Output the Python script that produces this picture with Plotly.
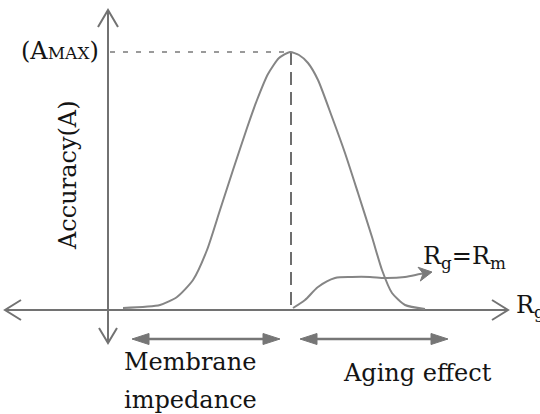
import plotly.graph_objects as go
import numpy as np

# ---- data (x: Rg position, y: accuracy, schematic units) ----
bell_rg = [123, 160, 177, 193, 207, 220, 233, 247, 257, 268, 279, 290, 299, 308, 318, 332, 345, 358, 372, 382, 392, 405, 425]
bell_acc = [2, 5, 13, 30, 60, 100, 140, 182, 210, 236, 252, 258, 255, 247, 230, 193, 157, 117, 73, 40, 17, 5, 1]

aging_rg = [293, 305, 318, 335, 352, 370, 385, 405, 420]
aging_acc = [2, 10, 23, 32, 33, 33, 32, 33, 36]
aging_tip = (432, 38)

peak_rg = 290
peak_acc = 258

axis_x_extent = (5, 508)      # horizontal axis (Rg)
axis_y_extent = (-33, 300)    # vertical axis (Accuracy)
axis_origin_rg = 108

membrane_span = (132, 280)
aging_span = (300, 448)
span_level = -29

labels = {
    "amax": "(A<span style=\"font-size:17px\">MAX</span>)",
    "acc": "Accuracy(A)",
    "rg_eq": "R<sub>g</sub>=R<sub>m</sub>",
    "rg": "R<sub>g</sub>",
    "membrane1": "Membrane",
    "membrane2": "impedance",
    "aging": "Aging effect",
}

AXIS_COL = "#727272"
LINE_COL = "#858585"
FONT = "DejaVu Serif"

fig = go.Figure()


def line(x, y, color=LINE_COL, width=2, dash=None, shape="linear", smoothing=None):
    ln = dict(color=color, width=width, shape=shape)
    if dash:
        ln["dash"] = dash
    if smoothing is not None:
        ln["smoothing"] = smoothing
    fig.add_trace(go.Scatter(x=x, y=y, mode="lines", line=ln, hoverinfo="skip"))


def chevron(tip, d, length=16, half=10, color=AXIS_COL):
    d = np.array(d, float); d /= np.linalg.norm(d)
    n = np.array([-d[1], d[0]])
    t = np.array(tip, float)
    a = t - length * d + half * n
    b = t - length * d - half * n
    line([a[0], t[0], b[0]], [a[1], t[1], b[1]], color=color, width=2)


def filled_head(tip, d, length=16, half=6, color=AXIS_COL, notch=0):
    d = np.array(d, float); d /= np.linalg.norm(d)
    n = np.array([-d[1], d[0]])
    t = np.array(tip, float)
    a = t - length * d + half * n
    b = t - length * d - half * n
    c = t - (length - notch) * d
    xs = [t[0], a[0], c[0], b[0], t[0]]
    ys = [t[1], a[1], c[1], b[1], t[1]]
    fig.add_trace(go.Scatter(x=xs, y=ys, mode="lines", fill="toself", fillcolor=color,
                             line=dict(color=color, width=1), hoverinfo="skip"))


# axes
line(list(axis_x_extent), [0, 0], color=AXIS_COL, width=2)
line([axis_origin_rg, axis_origin_rg], list(axis_y_extent), color=AXIS_COL, width=2)
chevron((axis_x_extent[1], 0), (1, 0))
chevron((axis_x_extent[0], 0), (-1, 0))
chevron((axis_origin_rg, axis_y_extent[1]), (0, 1), length=17)
chevron((axis_origin_rg, axis_y_extent[0]), (0, -1), length=15, half=9)

# reference lines to the peak
line([axis_origin_rg + 2, peak_rg], [peak_acc, peak_acc], color="#7a7a7a", width=1.5, dash="5px,8px")
line([peak_rg + 1, peak_rg + 1], [peak_acc, 0], color="#6e6e6e", width=2, dash="13px,7px")

# bell curve
line(bell_rg, bell_acc, color=LINE_COL, width=2, shape="spline", smoothing=0.6)

# aging curve with arrow
line(aging_rg + [aging_tip[0] - 6], aging_acc + [aging_tip[1] - 1], color=LINE_COL, width=2,
     shape="spline", smoothing=0.8)
filled_head(aging_tip, (aging_tip[0] - aging_rg[-1], aging_tip[1] - aging_acc[-1]),
            length=13, half=7, color="#7a7a7a", notch=4)

# span arrows below the axis
for lo, hi in (membrane_span, aging_span):
    line([lo + 10, hi - 10], [span_level, span_level], color="#767676", width=2.5)
    filled_head((lo, span_level), (-1, 0), length=17, half=5.5, color="#767676")
    filled_head((hi, span_level), (1, 0), length=17, half=5.5, color="#767676")

font = dict(family=FONT, size=24, color="#141414")
ann = [
    dict(x=101, y=peak_acc + 1, text=labels["amax"], xanchor="right", yanchor="middle"),
    dict(x=68, y=135, text=labels["acc"], textangle=-90, xanchor="center", yanchor="middle"),
    dict(x=421, y=53, text=labels["rg_eq"], xanchor="left", yanchor="middle"),
    dict(x=514, y=4, text=labels["rg"], xanchor="left", yanchor="middle"),
    dict(x=190, y=-52, text=labels["membrane1"], xanchor="center", yanchor="middle"),
    dict(x=190, y=-90, text=labels["membrane2"], xanchor="center", yanchor="middle"),
    dict(x=417, y=-63, text=labels["aging"], xanchor="center", yanchor="middle"),
]
for a in ann:
    fig.add_annotation(showarrow=False, font=font, **a)

fig.update_layout(
    width=540, height=414,
    margin=dict(l=0, r=0, t=0, b=0),
    paper_bgcolor="white", plot_bgcolor="white",
    showlegend=False,
    xaxis=dict(range=[0, 540], visible=False, fixedrange=True),
    yaxis=dict(range=[-104, 310], visible=False, fixedrange=True),
)

fig.write_html("out.html", config={"displayModeBar": False},
               post_script="document.body.style.margin='0px';")
